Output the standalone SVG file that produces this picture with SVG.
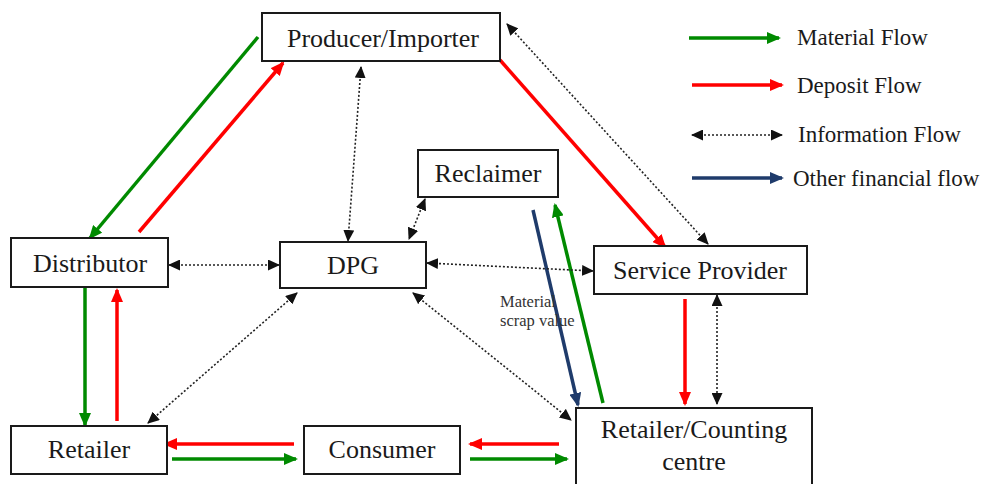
<svg xmlns="http://www.w3.org/2000/svg" width="990" height="484" viewBox="0 0 990 484">
  <style>
    .box { fill: #ffffff; stroke: #1a1a1a; stroke-width: 2; }
    .lbl { font-family: "Liberation Serif", "Times New Roman", serif; font-size: 26px; fill: #1a1a1a; text-anchor: middle; }
    .leg { font-family: "Liberation Serif", "Times New Roman", serif; font-size: 23px; fill: #1a1a1a; }
    .note { font-family: "Liberation Serif", "Times New Roman", serif; font-size: 16.5px; fill: #333333; }
    .mat { stroke: #008a00; stroke-width: 3.5; fill: none; marker-end: url(#hGreen); }
    .dep { stroke: #ff0000; stroke-width: 3.5; fill: none; marker-end: url(#hRed); }
    .fin { stroke: #1f3b6b; stroke-width: 3.5; fill: none; marker-end: url(#hBlue); }
    .inf { stroke: #222222; stroke-width: 1.6; stroke-dasharray: 2 2; fill: none; marker-start: url(#hBlack); marker-end: url(#hBlack); }
  </style>
  <defs>
    <marker id="hGreen" viewBox="0 0 14 12" refX="12" refY="6" markerWidth="14" markerHeight="12" markerUnits="userSpaceOnUse" orient="auto-start-reverse">
      <path d="M0,0 L14,6 L0,12 z" fill="#008a00"/>
    </marker>
    <marker id="hRed" viewBox="0 0 14 12" refX="12" refY="6" markerWidth="14" markerHeight="12" markerUnits="userSpaceOnUse" orient="auto-start-reverse">
      <path d="M0,0 L14,6 L0,12 z" fill="#ff0000"/>
    </marker>
    <marker id="hBlue" viewBox="0 0 14 12" refX="12" refY="6" markerWidth="14" markerHeight="12" markerUnits="userSpaceOnUse" orient="auto-start-reverse">
      <path d="M0,0 L14,6 L0,12 z" fill="#1f3b6b"/>
    </marker>
    <marker id="hBlack" viewBox="0 0 12 11" refX="11" refY="5.5" markerWidth="12" markerHeight="11" markerUnits="userSpaceOnUse" orient="auto-start-reverse">
      <path d="M0,0 L12,5.5 L0,11 z" fill="#111111"/>
    </marker>
  </defs>

  <rect width="990" height="484" fill="#ffffff"/>

  <!-- flows between the parties -->
  <g id="connectors">
    <line class="mat" x1="258" y1="37" x2="90" y2="238"/>
    <line class="dep" x1="139" y1="232" x2="283" y2="63"/>
    <line class="inf" x1="361" y1="67" x2="348" y2="241"/>
    <line class="inf" x1="425" y1="199" x2="409" y2="239"/>
    <line class="dep" x1="500" y1="60" x2="665" y2="247"/>
    <line class="inf" x1="507" y1="24" x2="708" y2="244"/>
    <line class="fin" x1="533" y1="210" x2="578" y2="405"/>
    <line class="mat" x1="603" y1="403" x2="555" y2="205"/>
    <line class="inf" x1="427" y1="263" x2="593" y2="271"/>
    <line class="inf" x1="169" y1="265" x2="279" y2="265"/>
    <line class="inf" x1="297" y1="293" x2="148" y2="423"/>
    <line class="inf" x1="413" y1="293" x2="571" y2="420"/>
    <line class="mat" x1="85" y1="288" x2="85" y2="425"/>
    <line class="dep" x1="117" y1="421" x2="117" y2="290"/>
    <line class="dep" x1="685" y1="299" x2="685" y2="404"/>
    <line class="inf" x1="717" y1="295" x2="717" y2="404"/>
    <line class="dep" x1="294" y1="444" x2="165" y2="444"/>
    <line class="mat" x1="172" y1="459" x2="296" y2="459"/>
    <line class="dep" x1="559" y1="444" x2="470" y2="444"/>
    <line class="mat" x1="470" y1="459" x2="567" y2="459"/>
    <text class="note" x="500" y="307">Material</text>
    <text class="note" x="500" y="326">scrap value</text>
  </g>

  <g id="producer">
    <rect class="box" x="262" y="13" width="238" height="48"/>
    <text class="lbl" x="383" y="47">Producer/Importer</text>
  </g>
  <g id="distributor">
    <rect class="box" x="11" y="238" width="157" height="49"/>
    <text class="lbl" x="90" y="272">Distributor</text>
  </g>
  <g id="dpg">
    <rect class="box" x="280" y="242" width="146" height="46"/>
    <text class="lbl" x="353" y="274">DPG</text>
  </g>
  <g id="reclaimer">
    <rect class="box" x="418" y="150" width="140" height="47"/>
    <text class="lbl" x="488" y="182">Reclaimer</text>
  </g>
  <g id="service-provider">
    <rect class="box" x="594" y="246" width="213" height="48"/>
    <text class="lbl" x="700" y="279">Service  Provider</text>
  </g>
  <g id="retailer">
    <rect class="box" x="11" y="426" width="156" height="48"/>
    <text class="lbl" x="89" y="458">Retailer</text>
  </g>
  <g id="consumer">
    <rect class="box" x="304" y="426" width="156" height="48"/>
    <text class="lbl" x="382" y="458">Consumer</text>
  </g>
  <g id="counting-centre">
    <rect class="box" x="576" y="408" width="236" height="80"/>
    <text class="lbl" x="694" y="438">Retailer/Counting</text>
    <text class="lbl" x="694" y="470">centre</text>
  </g>

  <!-- key -->
  <g id="legend">
    <line class="mat" x1="689" y1="38" x2="779" y2="38"/>
    <text class="leg" x="797" y="45">Material  Flow</text>
    <line class="dep" x1="692" y1="85" x2="782" y2="85"/>
    <text class="leg" x="797" y="93">Deposit Flow</text>
    <line class="inf" x1="692" y1="135" x2="782" y2="135"/>
    <text class="leg" x="798" y="142">Information Flow</text>
    <line class="fin" x1="692" y1="178" x2="782" y2="178"/>
    <text class="leg" x="793" y="186">Other financial flow</text>
  </g>
</svg>
